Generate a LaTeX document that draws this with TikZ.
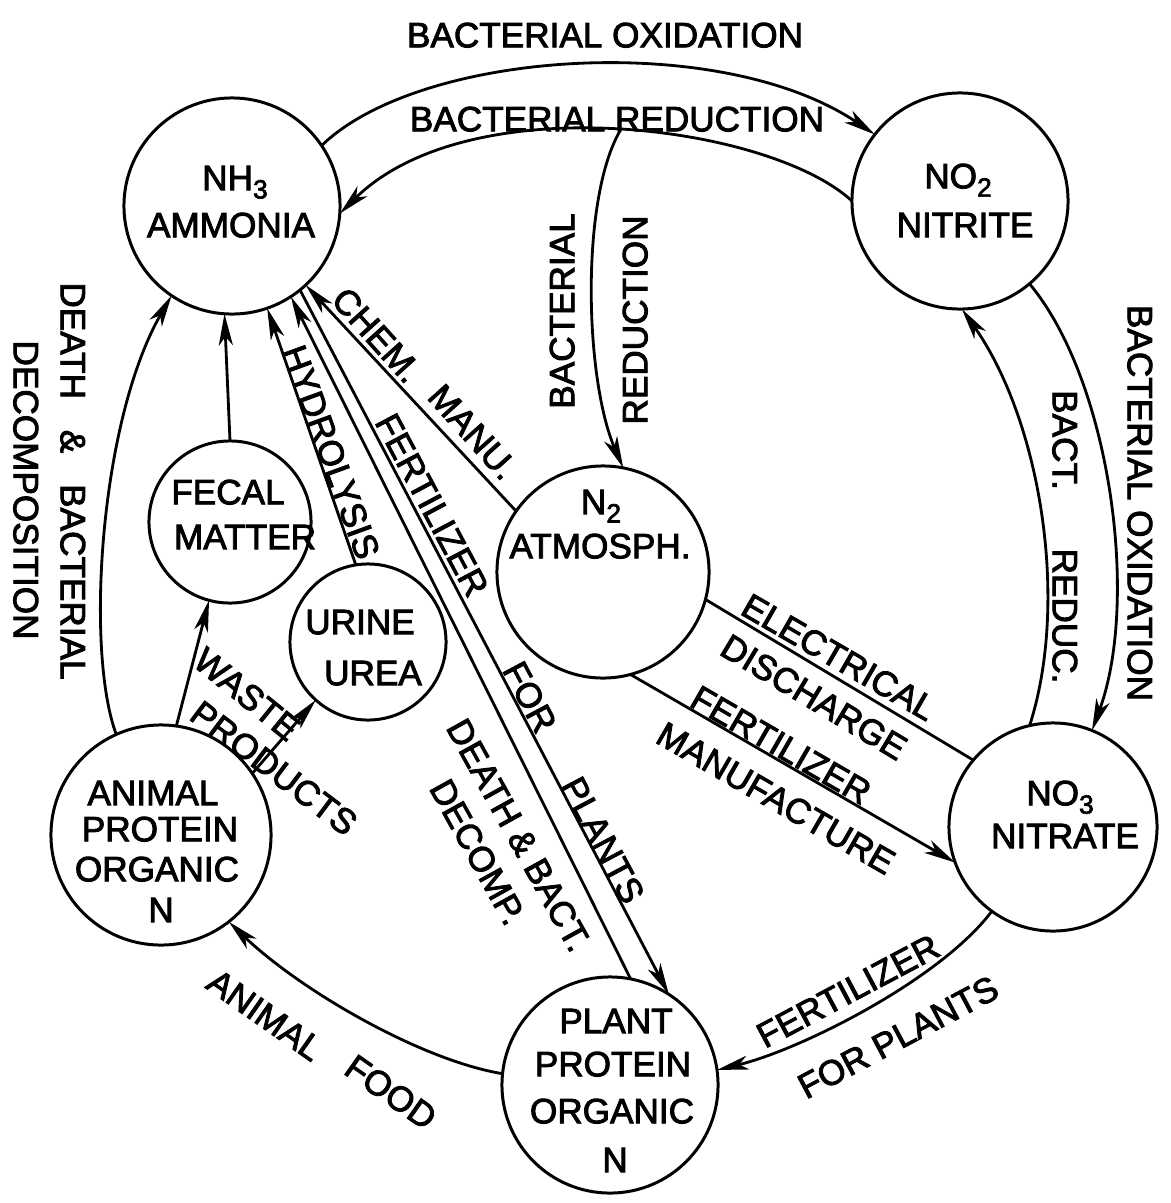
\documentclass[tikz,border=0pt]{standalone}
\usepackage{fontspec}
\setmainfont{Liberation Sans}
\newfontfamily\lettering{Liberation Sans}[FakeBold=2.5]
\usetikzlibrary{arrows.meta}
\newcommand{\lowsub}[1]{\raisebox{-0.45ex}{\fontsize{7.5}{7.5}\selectfont #1}}
\begin{document}
\begin{tikzpicture}[x=0.01cm,y=-0.01cm,
  ring/.style={circle,draw,line width=0.85pt,inner sep=0pt,outer sep=0pt},
  lbl/.style={inner sep=0pt,text depth=0pt,font=\lettering\fontsize{10}{12}\selectfont},
  flow/.style={line width=0.8pt},
  arr/.style={flow,-{Stealth[length=9pt,width=4pt,inset=2.5pt]}}]
\fill[white] (0,0) rectangle (1171,1203);
\useasboundingbox (0,0) rectangle (1171,1203);

% circles
\node[ring,minimum size=2.16cm] (nh3) at (232,206) {};
\node[ring,minimum size=2.16cm] (no2) at (960,201) {};
\node[ring,minimum size=2.12cm] (n2) at (603,572) {};
\node[ring,minimum size=2.08cm] (no3) at (1053,827) {};
\node[ring,minimum size=1.62cm] (fecal) at (230,522) {};
\node[ring,minimum size=1.56cm] (urine) at (368,642) {};
\node[ring,minimum size=2.20cm] (animal) at (161,835) {};
\node[ring,minimum size=2.16cm] (plant) at (610,1085) {};

% circle texts
\node[lbl] (tnh3a) at (235,178) {NH\lowsub{3}};
\node[lbl] (tnh3b) at (231,225) {AMMONIA};
\node[lbl] (tno2a) at (958,176) {NO\lowsub{2}};
\node[lbl] (tno2b) at (965,225) {NITRITE};
\node[lbl] (tn2a) at (601,502) {N\lowsub{2}};
\node[lbl] (tn2b) at (600,546) {ATMOSPH.};
\node[lbl] (tno3a) at (1060,793) {NO\lowsub{3}};
\node[lbl] (tno3b) at (1065,836) {NITRATE};
\node[lbl] (tfec1) at (228,492) {FECAL};
\node[lbl] (tfec2) at (245,537) {MATTER};
\node[lbl] (tur1) at (360,622) {URINE};
\node[lbl] (tur2) at (373,673) {UREA};
\node[lbl] (tan1) at (153,793) {ANIMAL};
\node[lbl] (tan2) at (160,829) {PROTEIN};
\node[lbl] (tan3) at (157,869) {ORGANIC};
\node[lbl] (tan4) at (161,910) {N};
\node[lbl] (tpl1) at (616,1021) {PLANT};
\node[lbl] (tpl2) at (613,1064) {PROTEIN};
\node[lbl] (tpl3) at (612,1111) {ORGANIC};
\node[lbl] (tpl4) at (615,1160) {N};

% connectors
\draw[arr] (nh3.34) .. controls (420,50) and (720,30) .. (no2.142);
\draw[arr] (no2.180) .. controls (770,125) and (470,85) .. coordinate[pos=0.49] (br) (nh3.-4);
\draw[arr] (br) .. controls (580,200) and (585,380) .. (n2.79);
\draw[arr] (no2.-50) .. controls (1110,380) and (1140,600) .. (no3.68);
\draw[arr] (no3.103) .. controls (1070,600) and (1040,420) .. (no2.-89);
\draw[arr] (no3.-126) .. controls (940,980) and (800,1050) .. (plant.8);
\draw[arr] (plant.174) .. controls (420,1060) and (300,990) .. (animal.-52);
\draw[arr] (animal.114) .. controls (85,650) and (100,420) .. (nh3.-124);
\draw[arr] (fecal.90) -- (nh3.-94);
\draw[arr] (animal.82) -- (fecal.-105);
\draw[arr] (animal.34) -- (urine.-132);
\draw[arr] (urine.99) -- (nh3.-71);
\draw[arr] (plant.79) -- (nh3.-57);
\draw[arr] (nh3.-51) -- (plant.57);
\draw[arr] (n2.145) -- (nh3.-47);
\draw[flow] (n2.-15) -- (no3.140);
\draw[arr] (n2.-75) -- (no3.-160);

% labels
\node[lbl] (lox) at (605,35) {BACTERIAL OXIDATION};
\node[lbl] (lred) at (617,119) {BACTERIAL REDUCTION};
\node[lbl,rotate=90] (lvb) at (562,311) {BACTERIAL};
\node[lbl,rotate=90] (lvr) at (635,320) {REDUCTION};
\node[lbl,rotate=-90] (lrox) at (1140,503) {BACTERIAL OXIDATION};
\node[lbl,rotate=-90] (lbact) at (1065,440) {BACT.};
\node[lbl,rotate=-90] (lreduc) at (1065,616) {REDUC.};
\node[lbl,rotate=-90] (ldeath1) at (73,481) {DEATH\hspace{6pt} \&\hspace{6pt} BACTERIAL};
\node[lbl,rotate=-90] (ldeath2) at (26,490) {DECOMPOSITION};
\node[lbl,rotate=-48] (lchem) at (377,335) {CHEM.};
\node[lbl,rotate=-48] (lmanu) at (473,432) {MANU.};
\node[lbl,rotate=-70] (lhyd) at (331,452) {HYDROLYSIS};
\node[lbl,rotate=-62] (lfert) at (432,505) {FERTILIZER};
\node[lbl,rotate=-62] (lfor) at (530,697) {FOR};
\node[lbl,rotate=-62] (lplants) at (603,840) {PLANTS};
\node[lbl,rotate=-61] (ldbact) at (519,835) {DEATH \& BACT.};
\node[lbl,rotate=-61] (ldecomp) at (478,852) {DECOMP.};
\node[lbl,rotate=-39] (lwaste) at (247,694) {WASTE};
\node[lbl,rotate=-37] (lprod) at (274,768) {PRODUCTS};
\node[lbl,rotate=-35] (lanim) at (265,1015) {ANIMAL};
\node[lbl,rotate=-35] (lfood) at (391,1092) {FOOD};
\node[lbl,rotate=28] (lfert2) at (848,991) {FERTILIZER};
\node[lbl,rotate=28] (lforpl) at (898,1037) {FOR PLANTS};
\node[lbl,rotate=-30] (lelec) at (839,657) {ELECTRICAL};
\node[lbl,rotate=-31] (ldisch) at (814,697) {DISCHARGE};
\node[lbl,rotate=-30] (lfert3) at (781,745) {FERTILIZER};
\node[lbl,rotate=-30] (lmanuf) at (776,798) {MANUFACTURE};
\end{tikzpicture}
\end{document}
